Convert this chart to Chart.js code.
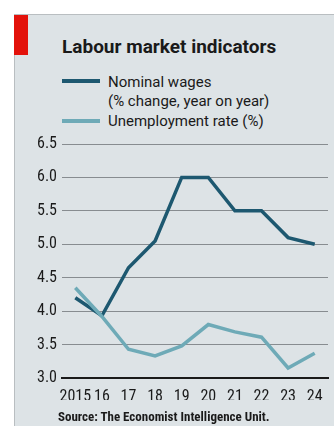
<!DOCTYPE html>
<html>
<head>
<meta charset="utf-8">
<script src="https://cdn.jsdelivr.net/npm/chart.js@4.4.1/dist/chart.umd.min.js"></script>
<style>
  html, body { margin: 0; padding: 0; background: #fff; }
  body { width: 334px; height: 426px; position: relative; overflow: hidden;
         font-family: "Roboto", sans-serif; color: #1a1a1a; }
  #panel { position: absolute; left: 14px; top: 14px; width: 320px; height: 412px;
           background: #dde3e6; border-left: 1px solid #b9bec1; border-top: 1px solid #b9bec1; box-sizing: border-box; }
  #tag { position: absolute; left: 14px; top: 15px; width: 14px; height: 40px; background: #e3120b; }
  #title { position: absolute; left: 62px; top: 36px; font-size: 19px; line-height: 22px; font-weight: bold; }
  .key { position: absolute; left: 62px; width: 38px; height: 4px; }
  .keytext { position: absolute; left: 108px; font-size: 15px; line-height: 19px; }
  #source { position: absolute; left: 58px; top: 409px; font-family: "Roboto Condensed", "Roboto", sans-serif;
            font-size: 13px; font-weight: bold; }
  #chart { position: absolute; left: 0; top: 0; }
</style>
</head>
<body>
<div id="panel"></div>
<div id="tag"></div>
<div id="title">Labour market indicators</div>
<div class="key" style="top:79px;background:#1d5870"></div>
<div class="keytext" style="top:73px">Nominal wages<br>(% change, year on year)</div>
<div class="key" style="top:119px;background:#6eaab7"></div>
<div class="keytext" style="top:112px">Unemployment rate (%)</div>
<canvas id="chart" width="334" height="426"></canvas>
<div id="source">Source: The Economist Intelligence Unit.</div>
<script>
  var years        = ['2015', '16', '17', '18', '19', '20', '21', '22', '23', '24'];
  var wages        = [4.2, 3.93, 4.65, 5.05, 6.0, 6.0, 5.5, 5.5, 5.1, 5.0];
  var unemployment = [4.35, 3.92, 3.43, 3.33, 3.48, 3.8, 3.69, 3.61, 3.15, 3.37];
  var yTicks       = [3.0, 3.5, 4.0, 4.5, 5.0, 5.5, 6.0, 6.5];

  var tickFont = { family: '"Roboto Condensed", "Roboto", sans-serif', size: 16 };

  new Chart(document.getElementById('chart').getContext('2d'), {
    type: 'line',
    data: {
      labels: years,
      datasets: [
        { label: 'Unemployment rate (%)', data: unemployment, borderColor: '#6eaab7', borderWidth: 3.5 },
        { label: 'Nominal wages', data: wages, borderColor: '#1d5870', borderWidth: 3.5 }
      ]
    },
    options: {
      responsive: false,
      animation: false,
      layout: { padding: { top: 144, right: 6, bottom: 26, left: 0 } },
      elements: { point: { radius: 0 }, line: { tension: 0, borderJoinStyle: 'miter' } },
      plugins: { legend: { display: false }, tooltip: { enabled: false } },
      scales: {
        x: {
          offset: true,
          grid: { display: false },
          border: { display: true, color: '#1a1a1a', width: 2 },
          ticks: { color: '#1a1a1a', font: tickFont, padding: 1, maxRotation: 0, autoSkip: false },
          afterFit: function(scale) { scale.height = 22; }
        },
        y: {
          min: yTicks[0],
          max: yTicks[yTicks.length - 1],
          afterBuildTicks: function(scale) {
            scale.ticks = yTicks.map(function(v) { return { value: v }; });
          },
          grid: { color: '#878c90', lineWidth: 1, drawTicks: false },
          border: { display: false },
          ticks: {
            color: '#1a1a1a', font: tickFont, padding: 5,
            callback: function(v) { return v.toFixed(1); }
          },
          afterFit: function(scale) { scale.width = 62; }
        }
      }
    }
  });
</script>
</body>
</html>
